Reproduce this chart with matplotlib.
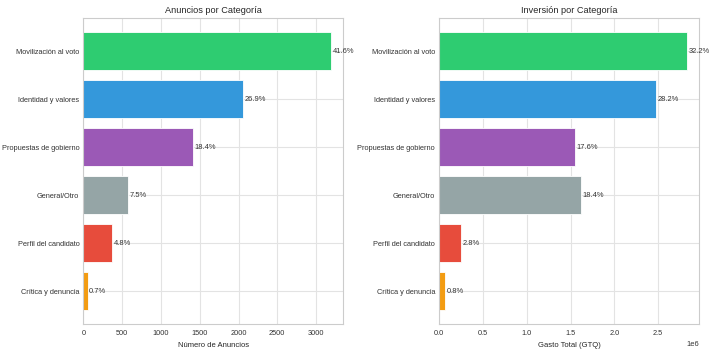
import matplotlib
matplotlib.use('Agg')
import matplotlib.pyplot as plt
import seaborn as sns

# Datos
categorias = ['Movilización al voto', 'Identidad y valores', 'Propuestas de gobierno',
              'General/Otro', 'Perfil del candidato', 'Crítica y denuncia']
colores = ['#2ecc71', '#3498db', '#9b59b6', '#95a5a6', '#e74c3c', '#f39c12']

anuncios = [3192, 2064, 1412, 575, 368, 54]
pct_anuncios = [41.6, 26.9, 18.4, 7.5, 4.8, 0.7]

gasto = [2830000, 2478000, 1547000, 1617000, 246000, 70000]
pct_gasto = [32.2, 28.2, 17.6, 18.4, 2.8, 0.8]

sns.set_style('whitegrid')
plt.rcParams['font.family'] = ['Liberation Sans', 'DejaVu Sans']
plt.rcParams['axes.edgecolor'] = '#cccccc'
plt.rcParams['grid.color'] = '#e3e3e3'

fig, (ax1, ax2) = plt.subplots(1, 2, figsize=(7.13, 3.5), dpi=100)
# posiciones de los ejes medidas sobre la referencia
ax1.set_position([0.117, 0.074, 0.4815 - 0.117, 0.948 - 0.074])
ax2.set_position([0.6161, 0.074, 0.9808 - 0.6161, 0.948 - 0.074])


def dibujar(ax, valores, pcts, titulo, xlabel):
    y = list(range(len(categorias)))
    ax.barh(y, valores, color=colores, edgecolor='white', linewidth=0.6, height=0.8)
    ax.set_yticks(y)
    ax.set_yticklabels(categorias)
    ax.invert_yaxis()
    for yi, v, p in zip(y, valores, pcts):
        ax.annotate(f'{p:.1f}%', xy=(v, yi), xytext=(1, 0), textcoords='offset points',
                    va='center', ha='left', fontsize=5.4, color='#333333')
    ax.set_title(titulo, fontsize=6.6, color='#262626', pad=3.5)
    ax.set_xlabel(xlabel, fontsize=5.5, color='#262626', labelpad=4)
    ax.tick_params(axis='both', labelsize=5.3, colors='#333333', pad=3, length=0)
    ax.tick_params(axis='x', pad=4)
    ax.xaxis.get_offset_text().set_fontsize(5.4)


dibujar(ax1, anuncios, pct_anuncios, 'Anuncios por Categoría', 'Número de Anuncios')
dibujar(ax2, gasto, pct_gasto, 'Inversión por Categoría', 'Gasto Total (GTQ)')

fig.savefig('out.png', dpi=100)
